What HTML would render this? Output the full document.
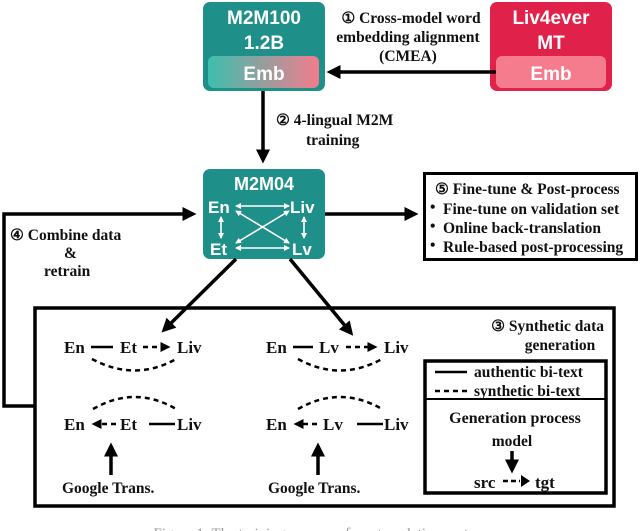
<!DOCTYPE html>
<html><head><meta charset="utf-8"><style>
html,body{margin:0;padding:0;background:#fff;}
svg{display:block;}
.s{font-family:"Liberation Serif",serif;font-weight:bold;fill:#111;}
.w{font-family:"Liberation Sans","DejaVu Sans",sans-serif;font-weight:bold;fill:#fff;}
</style></head><body>
<svg width="640" height="531" viewBox="0 0 640 531" xmlns="http://www.w3.org/2000/svg">
<defs>
<linearGradient id="g" x1="0" x2="1"><stop offset="0" stop-color="#3cbfae"/><stop offset="1" stop-color="#f27c8c"/></linearGradient>
<marker id="a" markerWidth="4" markerHeight="4" refX="3" refY="2" orient="auto" markerUnits="strokeWidth"><path d="M0,0L4,2L0,4z" fill="#000"/></marker>
<marker id="wa" markerWidth="6" markerHeight="6" refX="5" refY="3" orient="auto-start-reverse" markerUnits="userSpaceOnUse"><path d="M0,0L6,3L0,6z" fill="#fff"/></marker>
</defs>
<rect x="203" y="2" width="122" height="89" rx="7" fill="#1f8f8a"/>
<text x="264" y="24" class="w" font-size="19" text-anchor="middle">M2M100</text>
<text x="264" y="49" class="w" font-size="19" text-anchor="middle">1.2B</text>
<rect x="208" y="56" width="111" height="32" rx="6" fill="url(#g)"/>
<text x="264" y="80" class="w" font-size="19" text-anchor="middle">Emb</text>
<rect x="490" y="2" width="122" height="89" rx="7" fill="#e0224a"/>
<text x="551" y="24" class="w" font-size="19" text-anchor="middle">Liv4ever</text>
<text x="551" y="49" class="w" font-size="19" text-anchor="middle">MT</text>
<rect x="496" y="56" width="110" height="32" rx="6" fill="#f47c8c"/>
<text x="551" y="80" class="w" font-size="19" text-anchor="middle">Emb</text>
<line x1="496" y1="72" x2="330" y2="72" stroke="#000" stroke-width="3.5" marker-end="url(#a)"/>
<text x="411" y="23" class="s" font-size="15.5" text-anchor="middle">①  Cross-model word</text>
<text x="408" y="42" class="s" font-size="15.5" text-anchor="middle">embedding alignment</text>
<text x="408" y="61" class="s" font-size="15.5" text-anchor="middle">(CMEA)</text>
<line x1="263" y1="91" x2="263" y2="160" stroke="#000" stroke-width="3.5" marker-end="url(#a)"/>
<text x="276" y="125" class="s" font-size="15.5">② 4-lingual M2M</text>
<text x="306" y="145" class="s" font-size="15.5">training</text>
<rect x="203" y="169" width="122" height="90" rx="7" fill="#1f8f8a"/>
<text x="264" y="190" class="w" font-size="18" text-anchor="middle">M2M04</text>
<text x="208" y="213" class="w" font-size="17">En</text>
<text x="290" y="213" class="w" font-size="17">Liv</text>
<text x="210" y="255" class="w" font-size="17">Et</text>
<text x="292" y="255" class="w" font-size="17">Lv</text>
<g stroke="#fff" stroke-width="1.6" marker-start="url(#wa)" marker-end="url(#wa)">
<line x1="236" y1="206" x2="289" y2="206"/>
<line x1="236" y1="248" x2="289" y2="248"/>
<line x1="221" y1="217" x2="221" y2="238"/>
<line x1="304" y1="217" x2="304" y2="238"/>
<line x1="236" y1="211" x2="289" y2="243"/>
<line x1="289" y1="211" x2="236" y2="243"/>
</g>
<line x1="325" y1="214" x2="415" y2="214" stroke="#000" stroke-width="3.5" marker-end="url(#a)"/>
<rect x="424.5" y="173.5" width="212" height="86" fill="#fff" stroke="#000" stroke-width="3"/>
<text x="435" y="194" class="s" font-size="15.5">⑤ Fine-tune &amp; Post-process</text>
<g class="s" font-size="15.5">
<text x="430" y="212">•</text><text x="443" y="214">Fine-tune on validation set</text>
<text x="430" y="231">•</text><text x="443" y="233">Online back-translation</text>
<text x="430" y="250">•</text><text x="443" y="252">Rule-based post-processing</text>
</g>
<polyline points="34,406 4,406 4,214 193,214" fill="none" stroke="#000" stroke-width="3.5" marker-end="url(#a)"/>
<text x="10" y="240" class="s" font-size="15.5">④ Combine data</text>
<text x="64" y="258" class="s" font-size="15.5">&amp;</text>
<text x="44" y="276" class="s" font-size="15.5">retrain</text>
<rect x="35" y="308" width="579" height="198" fill="none" stroke="#000" stroke-width="3.5"/>
<line x1="236" y1="259" x2="164" y2="330" stroke="#000" stroke-width="3.5" marker-end="url(#a)"/>
<line x1="290" y1="259" x2="351" y2="333" stroke="#000" stroke-width="3.5" marker-end="url(#a)"/>
<text x="604" y="331" class="s" font-size="15.5" text-anchor="end">③ Synthetic data</text>
<text x="560" y="350" class="s" font-size="15.5" text-anchor="middle">generation</text>
<g class="s" font-size="17">
<text x="64" y="353">En</text><text x="120" y="353">Et</text><text x="177" y="353">Liv</text>
<text x="266" y="353">En</text><text x="319" y="353">Lv</text><text x="384" y="353">Liv</text>
<text x="64" y="430">En</text><text x="120" y="430">Et</text><text x="177" y="430">Liv</text>
<text x="266" y="430">En</text><text x="323" y="430">Lv</text><text x="384" y="430">Liv</text>
</g>
<g class="s" font-size="15.5">
<text x="62" y="493">Google Trans.</text><text x="268" y="493">Google Trans.</text>
</g>
<g stroke="#000" stroke-width="2.5" fill="none">
<line x1="91" y1="347" x2="113" y2="347"/>
<line x1="293" y1="347" x2="313" y2="347"/>
<line x1="149" y1="424" x2="175" y2="424"/>
<line x1="357" y1="424" x2="383" y2="424"/>
<g stroke-dasharray="5,4">
<line x1="143" y1="347" x2="168" y2="347" marker-end="url(#a)"/>
<line x1="346" y1="347" x2="375" y2="347" marker-end="url(#a)"/>
<line x1="116" y1="424" x2="94" y2="424" marker-end="url(#a)"/>
<line x1="317" y1="424" x2="296" y2="424" marker-end="url(#a)"/>
<path d="M92,359 Q135,382 176,359"/>
<path d="M298,359 Q340,382 382,359"/>
<path d="M93,409 Q135,385 176,409"/>
<path d="M298,409 Q340,385 382,409"/>
<line x1="435" y1="391" x2="467" y2="391"/>
</g>
<line x1="435" y1="372" x2="467" y2="372"/>
</g>
<line x1="111" y1="475" x2="111" y2="446" stroke="#000" stroke-width="3.5" marker-end="url(#a)"/>
<line x1="318" y1="475" x2="318" y2="446" stroke="#000" stroke-width="3.5" marker-end="url(#a)"/>
<rect x="425" y="361" width="181" height="132" fill="none" stroke="#000" stroke-width="3.5"/>
<line x1="425" y1="399" x2="606" y2="399" stroke="#000" stroke-width="2"/>
<text x="474" y="377" class="s" font-size="15.5">authentic bi-text</text>
<text x="474" y="396" class="s" font-size="15.5">synthetic bi-text</text>
<text x="515" y="423" class="s" font-size="16" text-anchor="middle">Generation process</text>
<text x="512" y="446" class="s" font-size="15.5" text-anchor="middle">model</text>
<line x1="512" y1="451" x2="512" y2="470" stroke="#000" stroke-width="3.5" marker-end="url(#a)"/>
<text x="474" y="488" class="s" font-size="17">src</text>
<line x1="503" y1="481" x2="520" y2="481" stroke="#000" stroke-width="2.5" stroke-dasharray="5,3"/>
<path d="M521,475L530,481L521,487z" fill="#000"/>
<text x="535" y="488" class="s" font-size="17">tgt</text>
<text x="320" y="538" font-family="Liberation Serif,serif" font-size="15" fill="#999" text-anchor="middle">Figure 1: The training process of our translation system</text>
</svg>
</body></html>
